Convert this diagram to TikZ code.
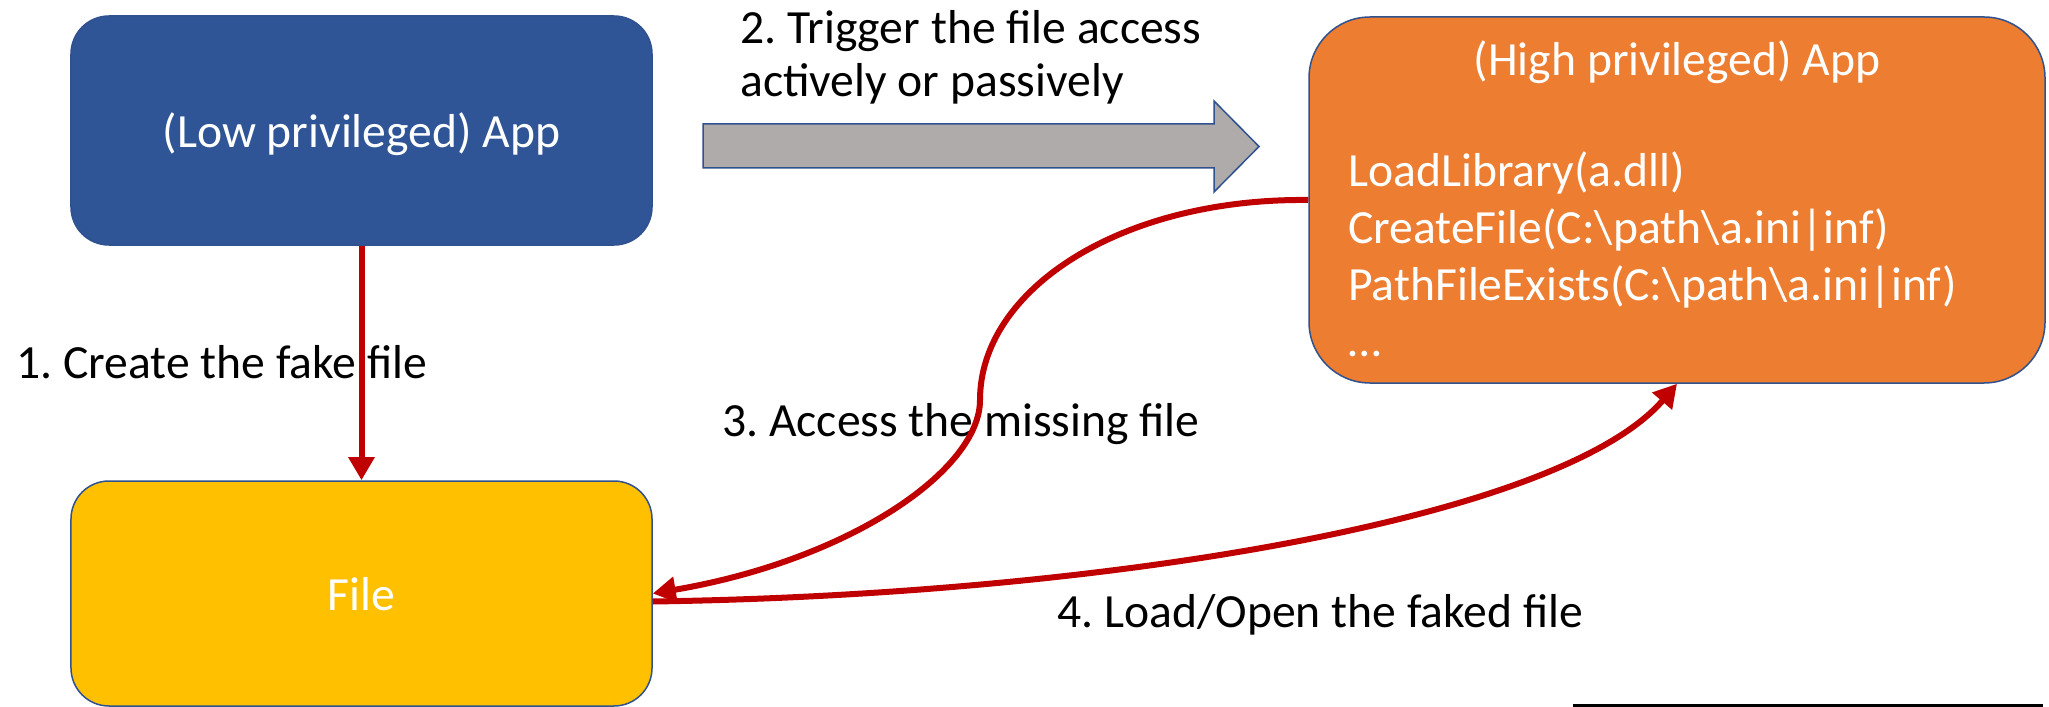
\documentclass[tikz,border=0pt]{standalone}
\usepackage{fontspec}
\setmainfont{Carlito}
\usetikzlibrary{arrows.meta}
\definecolor{lowblue}{HTML}{2F5597}
\definecolor{edgeblue}{HTML}{2F528F}
\definecolor{filegold}{HTML}{FFC000}
\definecolor{highorange}{HTML}{ED7D31}
\definecolor{triggergray}{HTML}{AFABAB}
\definecolor{flowred}{HTML}{C00000}
\frenchspacing

\begin{document}
\begin{tikzpicture}[x=0.2mm, y=-0.2mm, >={Triangle[length=4.6mm, width=5mm]},
    font=\fontsize{27.1}{32.4}\selectfont,
    box/.style = {draw=edgeblue, line width=0.3mm, inner sep=0pt, text=white, text height=19.5pt, text depth=0pt},
    flow/.style = {->, draw=flowred, line width=1.2mm},
    lbl/.style = {inner sep=0pt}]
    \useasboundingbox (0,0) rectangle (2049,707);

    % Nodes
    \node[box, fill=lowblue, rounded corners=7.6mm, minimum width=116.2mm, minimum height=45.8mm] (lowapp) at (361.5,130.5) {(Low privileged) App};
    \node[box, fill=filegold, rounded corners=7.6mm, minimum width=116.2mm, minimum height=45mm] (file) at (361.5,593.5) {File};
    \node[box, fill=highorange, rounded corners=12.2mm, minimum width=147.2mm, minimum height=73.2mm] (highapp) at (1677,200) {};
    \node[lbl, text=white, anchor=base] (hightitle) at (1677,76) {(High privileged) App};
    \node[lbl, text=white, anchor=north west, align=left] (calls) at (1348,151) {LoadLibrary(a.dll)\\CreateFile(C:\textbackslash path\textbackslash a.ini|inf)\\PathFileExists(C:\textbackslash path\textbackslash a.ini|inf)\\…};

    \node[lbl, anchor=base west] (create) at (16,378) {1. Create the fake file};
    \node[lbl, anchor=north west, align=left, font=\fontsize{27.1}{30}\selectfont] (trigger) at (740,10) {2. Trigger the file access\\actively or passively};
    \node[lbl, anchor=base west] (access) at (722,436) {3. Access the missing file};
    \node[lbl, anchor=base west] (load) at (1057,627) {4. Load/Open the faked file};

    % Trigger arrow
    \draw[draw=edgeblue, line width=0.3mm, fill=triggergray] (703,124) -- (1214,124) -- (1214,101) -- (1259,146.5) -- (1214,192) -- (1214,168) -- (703,168) -- cycle;

    % Edges
    \coordinate (turn) at (980,400);
    \draw[flow] (lowapp) -- (file);
    \draw[flow] (highapp.west) .. controls (1120,198) and (980,290) .. (turn) .. controls (980,470) and (850,560) .. (file.east);
    \draw[flow] ([yshift=-1.6mm]file.east) .. controls (1100,595) and (1560,520) .. (highapp.south);

    \draw[line width=0.6mm] (1573,705.5) -- (2043,705.5);
\end{tikzpicture}
\end{document}
